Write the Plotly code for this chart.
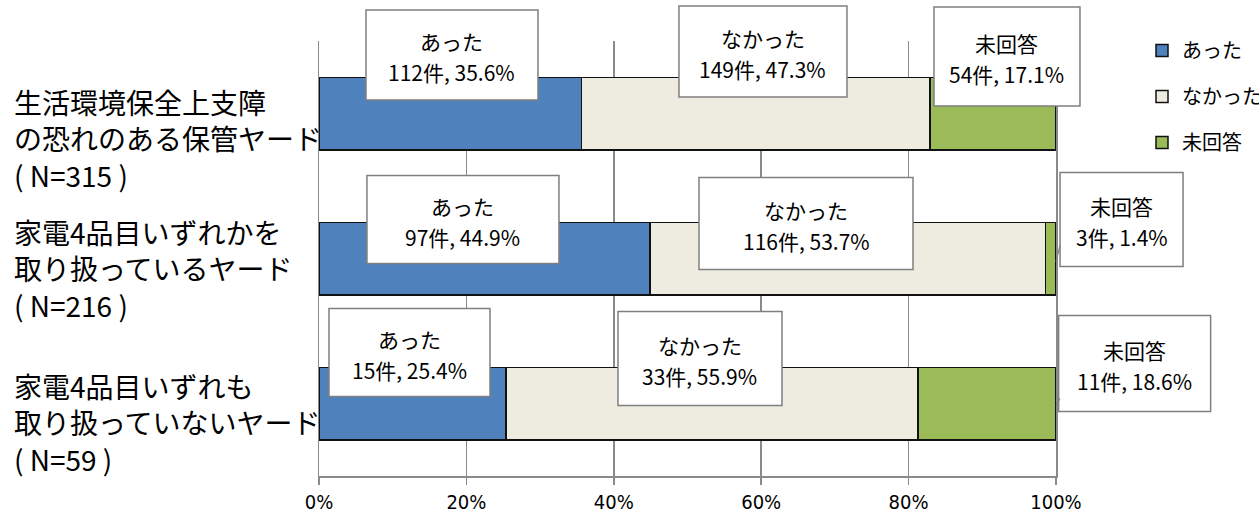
import plotly.graph_objects as go

# ---- data ----
categories = [
    "生活環境保全上支障<br>の恐れのある保管ヤード<br>( N=315 )",
    "家電4品目いずれかを<br>取り扱っているヤード<br>( N=216 )",
    "家電4品目いずれも<br>取り扱っていないヤード<br>( N=59 )",
]
series_names = ["あった", "なかった", "未回答"]
counts_atta = [112, 97, 15]
counts_nakatta = [149, 116, 33]
counts_mikaito = [54, 3, 11]
pct_atta = [35.6, 44.9, 25.4]
pct_nakatta = [47.3, 53.7, 55.9]
pct_mikaito = [17.1, 1.4, 18.6]
x_tick_vals = [0, 20, 40, 60, 80, 100]
x_tick_text = ["0%", "20%", "40%", "60%", "80%", "100%"]

# ---- styles / layout positions ----
colors = ["#4F81BD", "#EEECE1", "#9BBB59"]
grid_col = "#8A8A8A"
jp_font = "Noto Sans CJK JP, Noto Sans, sans-serif"
num_font = "Liberation Sans Narrow, DejaVu Sans Condensed, Roboto Condensed, Liberation Sans, sans-serif"

# callout boxes: pixel offsets from segment centre (dx right, dy up), box size
label_dx = [[1.8, 7.3, 14.0], [-21.5, -41.8, 70.7], [-3.1, -12.2, 147.9]]
label_dy = [[58.5, 62.0, 57.0], [39.0, 35.0, 39.0], [51.0, 45.0, 40.0]]
label_w = [[172, 168, 146], [192, 214, 123], [161, 164, 152]]
label_h = [[90, 91, 99], [88, 92, 94], [88, 94, 96]]
cat_label_shift = [-25.0, -10.0, -19.0]

counts = [counts_atta, counts_nakatta, counts_mikaito]
pcts = [pct_atta, pct_nakatta, pct_mikaito]

x_range = [0, 100]
y_range = [len(categories) - 0.5, -0.5]  # reversed: first category on top


def x_paper(v):
    return (v - x_range[0]) / (x_range[1] - x_range[0])


def y_paper(c):
    return (y_range[0] - c) / (y_range[0] - y_range[1])


fig = go.Figure()
for s, name in enumerate(series_names):
    fig.add_trace(go.Bar(
        y=list(range(len(categories))),
        x=pcts[s],
        orientation="h",
        name=name,
        legendgroup=name,
        marker=dict(color=colors[s], line=dict(color="#111111", width=1.5)),
        hoverinfo="skip",
    ))

shapes = []
annotations = []
for c in range(len(categories)):
    left = 0.0
    for s in range(len(series_names)):
        v = pcts[s][c]
        centre = left + v / 2.0
        left += v
        dx = label_dx[c][s]
        dy = label_dy[c][s]
        w = label_w[c][s]
        h = label_h[c][s]
        shapes.append(dict(
            type="rect", xref="paper", yref="paper",
            xsizemode="pixel", ysizemode="pixel",
            xanchor=x_paper(centre), yanchor=y_paper(c),
            x0=dx - w / 2, x1=dx + w / 2,
            y0=dy - h / 2, y1=dy + h / 2,
            fillcolor="white", line=dict(color="#7F7F7F", width=1.5),
            layer="above",
        ))
        annotations.append(dict(
            x=centre, y=c, xref="x", yref="y", xshift=dx, yshift=dy + 14,
            text=series_names[s], showarrow=False,
            font=dict(family=jp_font, size=21, color="#000000"),
        ))
        annotations.append(dict(
            x=centre, y=c, xref="x", yref="y", xshift=dx, yshift=dy - 17,
            text=f"{counts[s][c]}件, {v}%", showarrow=False,
            font=dict(family=jp_font, size=21, color="#000000"),
        ))

# small leader lines for the 未回答 callouts
for c, (a, b) in [(1, (-3, 13)), (2, (-2, 5))]:
    shapes.append(dict(
        type="line", xref="paper", yref="paper", xsizemode="pixel", ysizemode="pixel",
        xanchor=x_paper(100), yanchor=y_paper(c), x0=0, y0=a, x1=4, y1=b,
        line=dict(color="#7F7F7F", width=1.2), layer="above",
    ))

for c, cat in enumerate(categories):
    annotations.append(dict(
        x=(12 - 319) / 737, y=c, xref="paper", yref="y",
        xanchor="left", yanchor="middle", align="left",
        yshift=cat_label_shift[c],
        text=cat, showarrow=False,
        font=dict(family=jp_font, size=28, color="#000000"),
    ))

fig.update_layout(
    width=1259, height=513,
    margin=dict(l=319, r=203, t=41, b=37, pad=0, autoexpand=False),
    paper_bgcolor="white", plot_bgcolor="white",
    barmode="stack", bargap=0.5,
    showlegend=True,
    legend=dict(
        x=(1142 - 319) / 737, xanchor="left",
        y=(476 - 31) / 435, yanchor="top",
        font=dict(family=jp_font, size=20, color="#000000"),
        traceorder="grouped", tracegroupgap=17,
        bgcolor="rgba(0,0,0,0)", borderwidth=0,
    ),
    xaxis=dict(
        range=x_range, tickvals=x_tick_vals, ticktext=x_tick_text,
        showgrid=True, gridcolor=grid_col, gridwidth=1.5,
        zeroline=False, showline=True, linecolor=grid_col, linewidth=1.5,
        ticks="outside", ticklen=7, tickcolor=grid_col, tickwidth=1.5,
        tickfont=dict(family=num_font, size=20, color="#000000"),
        fixedrange=True,
    ),
    yaxis=dict(
        type="linear", range=y_range, showticklabels=False,
        showgrid=False, zeroline=False, showline=True, mirror=True,
        linecolor=grid_col, linewidth=1.5, ticks="", fixedrange=True,
    ),
    shapes=shapes,
    annotations=annotations,
)

fig.write_html(
    "out.html",
    config={"displayModeBar": False, "staticPlot": True},
    post_script="document.body.style.margin='0';document.body.style.overflow='hidden';",
)
